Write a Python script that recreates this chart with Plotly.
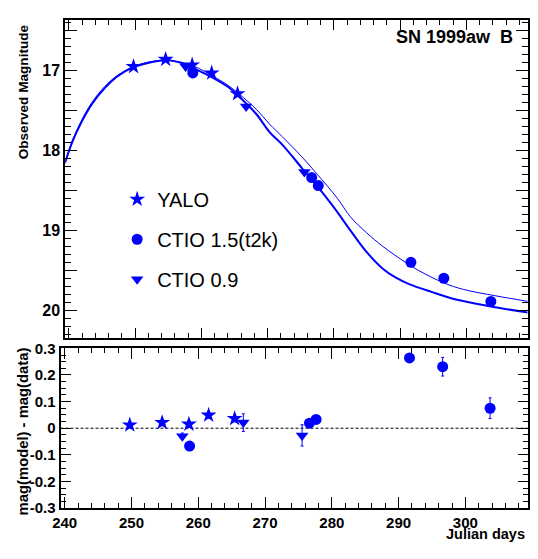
import plotly.graph_objects as go

# The page keeps the browser's default 8px body margin, so the figure is
# sized to fit exactly inside the 538x559 window without scrollbars.
OFF = 8
FW, FH = 538 - 2 * OFF, 559 - 2 * OFF

# ---- model light curves ----
model_day = [239.40, 240.53, 241.99, 243.46, 245.40, 247.35, 249.69, 252.24, 254.67,
             257.60, 259.56, 261.51, 263.95, 266.38, 268.35, 270.29, 272.24, 275.17,
             277.61, 280.06, 282.49, 284.93, 287.38, 289.30, 291.27, 294.70, 298.60,
             303.49, 309.34]
model_mag = [18.16, 17.89, 17.63, 17.42, 17.22, 17.07, 16.96, 16.90, 16.87,
             16.92, 17.00, 17.08, 17.20, 17.38, 17.55, 17.77, 17.93, 18.22,
             18.46, 18.72, 19.00, 19.27, 19.48, 19.59, 19.67, 19.77, 19.87,
             19.95, 20.03]

alt_day = [239.40, 240.53, 241.99, 243.46, 245.40, 247.35, 249.69, 252.24, 254.67,
           257.60, 259.56, 261.51, 263.95, 266.38, 268.35, 270.29, 272.24, 275.17,
           277.61, 280.54, 282.49, 284.93, 287.38, 290.79, 292.74, 296.65, 299.57,
           304.45, 309.34]
alt_mag = [18.15, 17.87, 17.61, 17.40, 17.20, 17.06, 16.95, 16.89, 16.87,
           16.91, 16.97, 17.06, 17.18, 17.34, 17.49, 17.67, 17.83, 18.08,
           18.31, 18.60, 18.83, 19.03, 19.20, 19.40, 19.50, 19.66, 19.74,
           19.82, 19.89]

# ---- data ----
yalo_day = [249.75, 254.60, 258.60, 261.55, 265.45]
yalo_mag = [16.95, 16.86, 16.93, 17.03, 17.29]
yalo_res = [0.012, 0.021, 0.015, 0.049, 0.036]
yalo_err = [0.012, 0.012, 0.012, 0.012, 0.012]

ctio15_day = [258.70, 276.65, 277.65, 291.63, 296.60, 303.70]
ctio15_mag = [17.03, 18.34, 18.44, 19.40, 19.60, 19.89]
ctio15_res = [-0.067, 0.019, 0.033, 0.264, 0.231, 0.075]
ctio15_err = [0.010, 0.010, 0.010, 0.012, 0.035, 0.039]

ctio09_day = [257.62, 266.75, 275.55]
ctio09_mag = [16.95, 17.45, 18.27]
ctio09_res = [-0.030, 0.021, -0.027]
ctio09_err = [0.012, 0.033, 0.040]

mag_ticks = [16.5, 17.0, 17.5, 18.0, 18.5, 19.0, 19.5, 20.0]
mag_labels = ["", "17", "", "18", "", "19", "", "20"]
res_ticks = [-0.3, -0.2, -0.1, 0.0, 0.1, 0.2, 0.3]
res_labels = ["-0.3", "-0.2", "-0.1", "0", "0.1", "0.2", "0.3"]

BLUE = "#0000ff"
FONT = "Liberation Sans, Arial, Helvetica, sans-serif"


def fx(x):
    """window pixel x -> paper fraction (slight squeeze to fit the visible area)"""
    return (x - OFF) / 529.0


def fy(y):
    """window pixel y -> paper fraction"""
    return 1 - (y - OFF) / FH


fig = go.Figure()

# model curves (top)
fig.add_trace(go.Scatter(x=alt_day, y=alt_mag, mode="lines", line=dict(color=BLUE, width=1, shape="spline"),
                         showlegend=False, xaxis="x", yaxis="y", hoverinfo="skip"))
fig.add_trace(go.Scatter(x=model_day, y=model_mag, mode="lines", line=dict(color=BLUE, width=2, shape="spline"),
                         showlegend=False, xaxis="x", yaxis="y", hoverinfo="skip"))

series = [
    ("YALO", yalo_day, yalo_mag, yalo_res, yalo_err, "star", 12),
    ("CTIO 1.5(t2k)", ctio15_day, ctio15_mag, ctio15_res, ctio15_err, "circle", 11),
    ("CTIO 0.9", ctio09_day, ctio09_mag, ctio09_res, ctio09_err, "triangle-down", 11),
]
for name, d, m, r, e, sym, sz in series:
    fig.add_trace(go.Scatter(x=d, y=m, mode="markers", name=name, legendgroup=name,
                             marker=dict(symbol=sym, size=sz, color=BLUE, line=dict(width=0)),
                             xaxis="x", yaxis="y"))
    fig.add_trace(go.Scatter(x=d, y=r, mode="markers", name=name, legendgroup=name, showlegend=False,
                             marker=dict(symbol=sym, size=sz, color=BLUE, line=dict(width=0)),
                             error_y=dict(type="data", array=e, visible=True, color=BLUE, thickness=1, width=1.5),
                             xaxis="x2", yaxis="y2"))

axis_common = dict(showgrid=False, zeroline=False, showline=True, linecolor="black", linewidth=2,
                   mirror="allticks", ticks="inside", tickcolor="black", tickwidth=1)

fig.update_layout(
    width=FW, height=FH, autosize=False,
    margin=dict(l=0, r=0, t=0, b=0, pad=0),
    paper_bgcolor="white", plot_bgcolor="white",
    font=dict(family=FONT, color="black"),
    xaxis=dict(domain=[fx(59), fx(536.5)], range=[239.459, 309.236], anchor="y",
               tickmode="linear", tick0=240, dtick=10, ticklen=10, showticklabels=False,
               minor=dict(ticks="inside", tickmode="linear", tick0=240, dtick=2, ticklen=5,
                          tickcolor="black", tickwidth=1, showgrid=False),
               **axis_common),
    yaxis=dict(domain=[fy(339.3), fy(10.7)], range=[20.347, 16.362], anchor="x",
               tickmode="array", tickvals=mag_ticks, ticktext=mag_labels, ticklen=12,
               tickfont=dict(size=16, family=FONT, weight="bold"), ticklabelstandoff=0,
               minor=dict(ticks="inside", tickmode="linear", tick0=16, dtick=0.1, ticklen=6,
                          tickcolor="black", tickwidth=1, showgrid=False),
               **axis_common),
    xaxis2=dict(domain=[fx(54), fx(536.5)], range=[239.377, 309.304], anchor="y2",
                tickmode="linear", tick0=240, dtick=10, ticklen=11,
                tickfont=dict(size=15, family=FONT, weight="bold"), ticklabelstandoff=0,
                minor=dict(ticks="inside", tickmode="linear", tick0=240, dtick=2, ticklen=5,
                           tickcolor="black", tickwidth=1, showgrid=False),
                **axis_common),
    yaxis2=dict(domain=[fy(515), fy(350)], range=[-0.3002, 0.3002], anchor="x2",
                tickmode="array", tickvals=res_ticks, ticktext=res_labels, ticklen=10,
                tickfont=dict(size=15, family=FONT, weight="bold"), ticklabelstandoff=0,
                minor=dict(ticks="inside", tickmode="linear", tick0=0, dtick=0.025, ticklen=5,
                           tickcolor="black", tickwidth=1, showgrid=False),
                **axis_common),
    legend=dict(x=fx(112.5), y=fy(176), xanchor="left", yanchor="top",
                bgcolor="rgba(0,0,0,0)", borderwidth=0, tracegroupgap=11,
                font=dict(size=20, family=FONT, color="black"), itemsizing="trace"),
    shapes=[dict(type="line", xref="x2 domain", x0=0, x1=1, yref="y2", y0=0, y1=0,
                 line=dict(color="black", width=1, dash="3px,2px"), layer="below")],
    annotations=[
        dict(text="SN 1999aw\u00a0\u00a0B", xref="paper", yref="paper", x=fx(524), y=fy(29),
             xanchor="right", yanchor="middle", showarrow=False,
             font=dict(size=18, family=FONT, weight="bold")),
        dict(text="Observed Magnitude", xref="paper", yref="paper", x=fx(16), y=fy(85),
             xanchor="center", yanchor="middle", textangle=-90, showarrow=False,
             font=dict(size=13.6, family=FONT, weight="bold")),
        dict(text="mag(model) - mag(data)", xref="paper", yref="paper", x=fx(15), y=fy(436),
             xanchor="center", yanchor="middle", textangle=-90, showarrow=False,
             font=dict(size=14.8, family=FONT, weight="bold")),
        dict(text="Julian days", xref="paper", yref="paper", x=fx(536), y=fy(542),
             xanchor="right", yanchor="middle", showarrow=False,
             font=dict(size=14.5, family=FONT, weight="bold")),
    ],
)

fig.write_html("out.html", config={"displayModeBar": False})
